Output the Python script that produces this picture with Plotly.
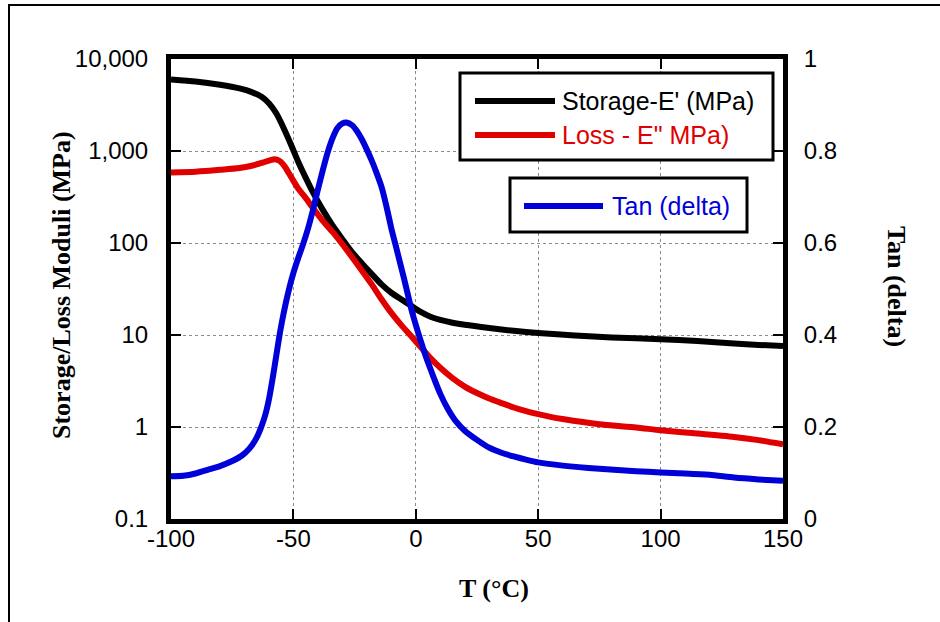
import plotly.graph_objects as go

# ---------------- data ----------------
T_storage = [-100, -90, -80, -72, -67, -63, -60, -57, -54, -51, -48, -45, -42, -38, -34, -30,
             -26, -22, -18, -14, -10, -6, -2, 2, 6, 10, 15, 20, 30, 40, 50, 65, 80, 100,
             115, 130, 140, 150]
E_storage = [6000, 5700, 5250, 4790, 4370, 3890, 3310, 2570, 1780, 1175, 760, 513, 355, 229, 155, 110,
             79, 60, 46, 35.5, 28.8, 24.5, 20.9, 17.8, 15.8, 14.6, 13.6, 12.9, 11.9, 11.1, 10.5, 9.9, 9.4, 9.0,
             8.6, 8.1, 7.8, 7.6]

T_loss = [-100, -90, -80, -72, -67, -63, -60, -57.5, -55.5, -53.5, -51, -48, -45, -42, -38, -34,
          -30, -26, -22, -18, -14, -10, -6, -2, 2, 6, 10, 15, 20, 25, 30, 35, 40, 45, 50, 55, 60, 75,
          90, 100, 115, 130, 140, 150]
E_loss = [583, 596, 624, 653, 692, 741, 785, 813, 776, 676, 525, 389, 309, 240, 174, 132,
          97, 70, 50, 35.5, 24.5, 17.4, 12.9, 9.8, 7.4, 5.6, 4.4, 3.4, 2.75, 2.34, 2.04, 1.82, 1.63, 1.49,
          1.38, 1.29, 1.22, 1.07, 0.99, 0.92, 0.85, 0.78, 0.72, 0.65]

T_tan = [-100, -95, -90, -85, -80, -75, -71, -68, -65.5, -63.5, -61.5, -60, -58.5, -57, -55.5,
         -54, -52, -50, -48, -46, -44, -42, -40, -38, -36, -34, -32, -30, -28.3, -26, -24,
         -22, -20, -18, -16, -14, -12, -10, -8, -6, -4, -2, 0, 2, 4, 6, 8, 10, 13, 16, 20,
         25, 30, 35, 40, 45, 50, 60, 75, 90, 100, 110, 120, 130, 140, 150]
tan_delta = [0.093, 0.094, 0.099, 0.107, 0.115, 0.126, 0.138, 0.153, 0.172, 0.195, 0.226, 0.26, 0.305,
             0.355, 0.405, 0.447, 0.495, 0.535, 0.568, 0.598, 0.632, 0.672, 0.716, 0.758, 0.797, 0.828,
             0.85, 0.86, 0.862, 0.856, 0.843, 0.825, 0.803, 0.779, 0.752, 0.722, 0.68, 0.632, 0.59,
             0.548, 0.505, 0.46, 0.422, 0.387, 0.355, 0.326, 0.298, 0.272, 0.24, 0.215, 0.192, 0.172,
             0.155, 0.144, 0.136, 0.129, 0.123, 0.116, 0.109, 0.104, 0.101, 0.099, 0.096, 0.09, 0.086, 0.083]

x_ticks = [-100, -50, 0, 50, 100, 150]
y_ticks = [0.1, 1, 10, 100, 1000, 10000]
y_ticktext = ["0.1", "1", "10", "100", "1,000", "10,000"]
y2_ticks = [0, 0.2, 0.4, 0.6, 0.8, 1]
y2_ticktext = ["0", "0.2", "0.4", "0.6", "0.8", "1"]

names = ["Storage-E' (MPa)", "Loss - E\" MPa)", "Tan (delta)"]
colors = ["#000000", "#e10000", "#0000d8"]

# ---------------- layout geometry ----------------
W, H = 940, 622
L, R, TOP, BOT = 171, 783, 59, 519   # plot area in pixels


def px(xp):
    return (xp - L) / (R - L)


def py(yp):
    return (BOT - yp) / (BOT - TOP)


fig = go.Figure()
fig.add_trace(go.Scatter(x=T_storage, y=E_storage, name=names[0], mode="lines",
                         line=dict(color=colors[0], width=6, shape="spline", smoothing=0.6),
                         showlegend=False))
fig.add_trace(go.Scatter(x=T_loss, y=E_loss, name=names[1], mode="lines",
                         line=dict(color=colors[1], width=6, shape="spline", smoothing=0.6),
                         showlegend=False))
fig.add_trace(go.Scatter(x=T_tan, y=tan_delta, name=names[2], mode="lines", yaxis="y2",
                         line=dict(color=colors[2], width=6, shape="spline", smoothing=0.6),
                         showlegend=False))

tickfont = dict(family="Liberation Sans, Arial", size=24, color="black")
titlefont = dict(family="Liberation Serif, Times New Roman", size=26, color="black")
legfont = "Liberation Sans, Arial"

fig.update_layout(
    width=W, height=H,
    margin=dict(l=L, r=W - R, t=TOP, b=H - BOT, pad=0),
    paper_bgcolor="white", plot_bgcolor="white",
    showlegend=False,
    xaxis=dict(range=[-100, 150], tickvals=x_ticks, ticktext=[str(v) for v in x_ticks],
               ticks="inside", ticklen=10, tickwidth=2, tickcolor="black",
               showline=True, linewidth=5, linecolor="black", mirror="ticks",
               showgrid=True, gridcolor="#8c8c8c", gridwidth=1, griddash="dot",
               zeroline=False, tickfont=tickfont, ticklabelstandoff=-6),
    yaxis=dict(type="log", range=[-1, 4], tickvals=y_ticks, ticktext=y_ticktext,
               ticks="inside", ticklen=10, tickwidth=2, tickcolor="black",
               showline=True, linewidth=5, linecolor="black", mirror=True,
               showgrid=True, gridcolor="#8c8c8c", gridwidth=1, griddash="dot",
               zeroline=False, tickfont=tickfont, ticklabelstandoff=13),
    yaxis2=dict(overlaying="y", side="right", range=[0, 1], tickvals=y2_ticks, ticktext=y2_ticktext,
                ticks="inside", ticklen=10, tickwidth=2, tickcolor="black",
                showline=True, linewidth=5, linecolor="black",
                showgrid=False, zeroline=False, tickfont=tickfont, ticklabelstandoff=11),
)

shapes = []
annotations = []

# outer frame of the figure
shapes.append(dict(type="rect", xref="paper", yref="paper",
                   x0=px(9), x1=px(1000), y0=py(700), y1=py(5),
                   line=dict(color="black", width=2), fillcolor="rgba(0,0,0,0)", layer="below"))

# axis titles
annotations.append(dict(text="<b>Storage/Loss Moduli (MPa)</b>", xref="paper", yref="paper",
                        x=px(61), y=py(285), textangle=-90, showarrow=False,
                        xanchor="center", yanchor="middle", font=titlefont))
annotations.append(dict(text="<b>Tan (delta)</b>", xref="paper", yref="paper",
                        x=px(897), y=py(286), textangle=90, showarrow=False,
                        xanchor="center", yanchor="middle", font=titlefont))
annotations.append(dict(text="<b>T (°C)</b>", xref="paper", yref="paper",
                        x=px(494), y=py(588), showarrow=False,
                        xanchor="center", yanchor="middle", font=titlefont))

# legend box 1
shapes.append(dict(type="rect", xref="paper", yref="paper",
                   x0=px(460), x1=px(773), y0=py(160), y1=py(73),
                   line=dict(color="black", width=3), fillcolor="white", layer="above"))
# legend box 2
shapes.append(dict(type="rect", xref="paper", yref="paper",
                   x0=px(510), x1=px(747), y0=py(232), y1=py(178),
                   line=dict(color="black", width=3), fillcolor="white", layer="above"))

legend_items = [(0, 475, 555, 101, 560), (1, 475, 555, 135, 560), (2, 524, 603, 206, 610)]
for i, x0, x1, yy, xt in legend_items:
    shapes.append(dict(type="line", xref="paper", yref="paper",
                       x0=px(x0), x1=px(x1), y0=py(yy), y1=py(yy),
                       line=dict(color=colors[i], width=6), layer="above"))
    annotations.append(dict(text=names[i], xref="paper", yref="paper",
                            x=px(xt), y=py(yy), showarrow=False,
                            xanchor="left", yanchor="middle",
                            font=dict(family=legfont, size=25, color=colors[i])))

fig.update_layout(shapes=shapes, annotations=annotations)

fig.write_html("out.html")
